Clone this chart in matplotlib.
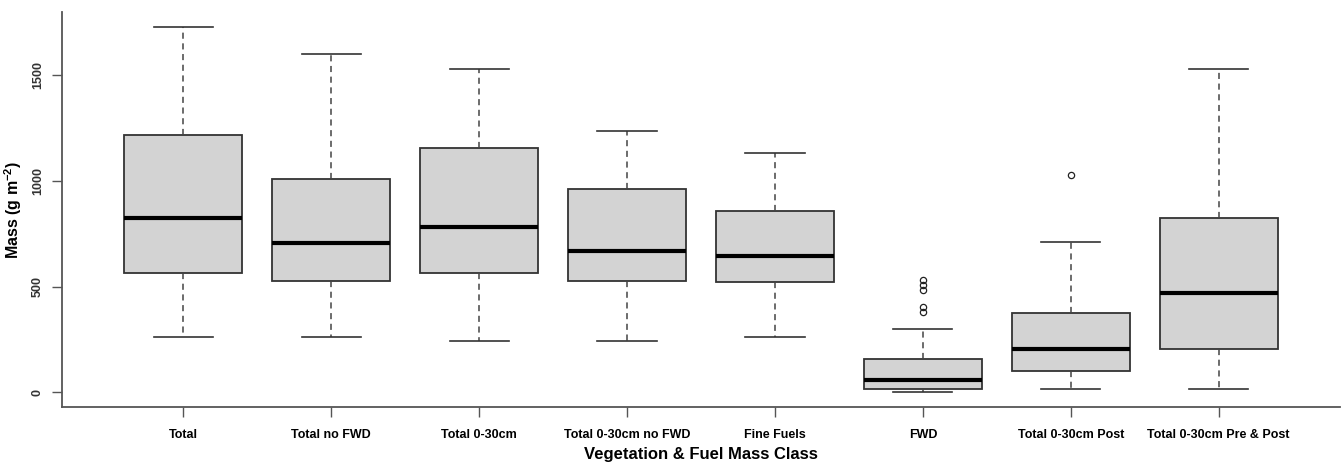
import matplotlib
matplotlib.use('Agg')
import matplotlib.pyplot as plt

plt.rcParams['font.family'] = ['Liberation Sans']
plt.rcParams['mathtext.fontset'] = 'custom'
plt.rcParams['mathtext.rm'] = 'Liberation Sans:bold'
plt.rcParams['mathtext.default'] = 'regular'

classes = ['Total', 'Total no FWD', 'Total 0-30cm', 'Total 0-30cm no FWD',
           'Fine Fuels', 'FWD', 'Total 0-30cm Post', 'Total 0-30cm Pre & Post']
whis_lo = [264, 264, 244, 244, 263, 0, 15, 15]
q1 = [564, 529, 564, 528, 520, 18, 102, 207]
median = [824, 706, 784, 671, 646, 61, 207, 472]
q3 = [1215, 1008, 1154, 960, 858, 159, 376, 823]
whis_hi = [1728, 1602, 1531, 1235, 1134, 300, 712, 1531]
outliers = [[], [], [], [], [], [532, 508, 486, 403, 380], [1026], []]

stats = []
for i, name in enumerate(classes):
    stats.append(dict(label=name, whislo=whis_lo[i], q1=q1[i], med=median[i],
                      q3=q3[i], whishi=whis_hi[i], fliers=outliers[i]))

fig = plt.figure(figsize=(13.44, 4.66), dpi=100)
ax = fig.add_axes([62 / 1344, 1 - 407 / 466, 1278 / 1344, 395 / 466])

edge = '#333333'
ax.bxp(stats, positions=range(1, 9), widths=0.8, patch_artist=True,
       boxprops=dict(facecolor='#d3d3d3', edgecolor=edge, linewidth=1.3),
       medianprops=dict(color='black', linewidth=3, solid_capstyle='butt'),
       whiskerprops=dict(color='#444444', linewidth=1.1, linestyle=(0, (4, 3))),
       capprops=dict(color='#333333', linewidth=1.2),
       capwidths=0.4,
       flierprops=dict(marker='o', markersize=4.5, markerfacecolor='none',
                       markeredgecolor='#222222', markeredgewidth=0.9))

ax.set_xlim(0.18, 8.82)
ax.set_ylim(-69, 1799)
ax.set_yticks([0, 500, 1000, 1500])
ax.set_yticklabels(['0', '500', '1000', '1500'], rotation=90, va='center',
                   fontsize=9, fontweight='bold', color='#333333')
ax.set_xticks(range(1, 9))
ax.set_xticklabels(classes, fontsize=9, fontweight='bold',
                   family=['Liberation Sans Narrow', 'Liberation Sans'])

for side in ['top', 'right']:
    ax.spines[side].set_visible(False)
for side in ['left', 'bottom']:
    ax.spines[side].set_color('#555555')
    ax.spines[side].set_linewidth(1.3)
ax.tick_params(axis='both', length=7, width=1, color='#555555')
ax.tick_params(axis='x', pad=9)
ax.tick_params(axis='y', pad=6)

ax.set_xlabel('Vegetation & Fuel Mass Class', fontsize=12, fontweight='bold', labelpad=4)
ax.set_ylabel(r'Mass (g m$^{-2}$)', fontsize=11.5, fontweight='bold', labelpad=6)

plt.savefig('out.png', dpi=100)
